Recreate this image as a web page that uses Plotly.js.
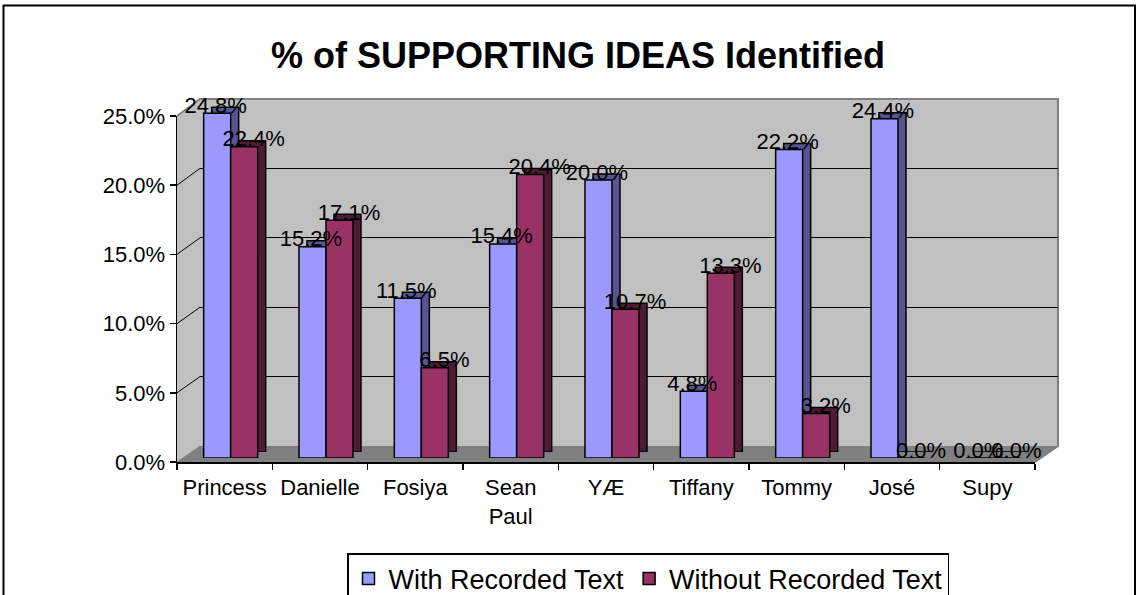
<!DOCTYPE html>
<html>
<head>
<meta charset="utf-8">
<script src="https://cdn.plot.ly/plotly-3.0.1.min.js"></script>
<style>html,body{margin:0;padding:0;background:#fff;}#chart{width:1138px;height:595px;}</style>
</head>
<body>
<div id="chart"></div>
<script>
// ---- data ----
const categories = ["Princess", "Danielle", "Fosiya", "Sean Paul", "YÆ", "Tiffany", "Tommy", "José", "Supy"];
const withRecorded = [0.248, 0.152, 0.115, 0.154, 0.200, 0.048, 0.222, 0.244, 0.000];
const withoutRecorded = [0.224, 0.171, 0.065, 0.204, 0.107, 0.133, 0.032, 0.000, 0.000];
const seriesNames = ["With Recorded Text", "Without Recorded Text"];
const yTicks = [0, 0.05, 0.10, 0.15, 0.20, 0.25];

// ---- geometry helpers (pixels -> paper) ----
const W = 1138, H = 595;
const px = x => x / W;
const py = y => 1 - y / H;
const FONT = "Arial, 'Liberation Sans', sans-serif";

const colors = { with: "#9999ff", without: "#993366", withSide: "#55558f", withoutSide: "#4f1a36" };

const front = { x0: 177, x1: 1035, yb: 462, yt: 116 };
const wall = { x0: 200, x1: 1058, yb: 446, yt: 99 };
const barF = { x0: 183, x1: 1041, yb: 458, yt: 110.5 };
const barB = { x0: 191, x1: 1049, yb: 452, yt: 104.5 };
const lab = { x0: 187, x1: 1045, yb: 452, yt: 104.5 };

const catRange = [-0.5, categories.length - 0.5];
const yRange = [0, 0.25];

function hiddenX(g, extra) {
  return Object.assign({ domain: [px(g.x0), px(g.x1)], type: "category", range: catRange,
    categoryorder: "array", categoryarray: categories, automargin: false,
    showticklabels: false, showgrid: false, zeroline: false, showline: false, ticks: "", fixedrange: true }, extra || {});
}
function hiddenY(g, extra) {
  return Object.assign({ domain: [py(g.yb), py(g.yt)], range: yRange, automargin: false,
    showticklabels: false, showgrid: false, zeroline: false, showline: false, ticks: "", fixedrange: true }, extra || {});
}

const labelFont = { family: FONT, size: 22, color: "#000" };
const traces = [
  { type: "scatter", mode: "none", x: categories, y: withRecorded, xaxis: "x", yaxis: "y", showlegend: false, hoverinfo: "skip" },
  { type: "bar", x: categories, y: withRecorded, xaxis: "x2", yaxis: "y2", showlegend: false, hoverinfo: "skip",
    marker: { color: colors.withSide, line: { color: "#000", width: 1.5 } } },
  { type: "bar", x: categories, y: withoutRecorded, xaxis: "x2", yaxis: "y2", showlegend: false, hoverinfo: "skip",
    marker: { color: colors.withoutSide, line: { color: "#000", width: 1.5 } } },
  { type: "bar", name: seriesNames[0], x: categories, y: withRecorded, xaxis: "x3", yaxis: "y3",
    marker: { color: colors.with, line: { color: "#000", width: 1.5 } } },
  { type: "bar", name: seriesNames[1], x: categories, y: withoutRecorded, xaxis: "x3", yaxis: "y3",
    marker: { color: colors.without, line: { color: "#000", width: 1.5 } } },
  { type: "scatter", mode: "none", x: categories, y: withRecorded, xaxis: "x4", yaxis: "y4", showlegend: false, hoverinfo: "skip" },
  { type: "scatter", mode: "text", x: categories, y: withRecorded, xaxis: "x5", yaxis: "y5", showlegend: false,
    texttemplate: "%{y:.1%}", textposition: "middle center", textfont: labelFont, cliponaxis: false, hoverinfo: "skip" },
  { type: "scatter", mode: "text", x: categories, y: withoutRecorded, xaxis: "x5", yaxis: "y5", showlegend: false,
    texttemplate: "%{y:.1%}", textposition: "middle center", textfont: labelFont, cliponaxis: false, hoverinfo: "skip" }
];

const shapes = [];
const P = (x, y) => px(x) + "," + py(y);
shapes.push({ type: "path", xref: "paper", yref: "paper", layer: "below", line: { width: 0 }, fillcolor: "#808080",
  path: "M" + P(front.x0, front.yb) + "L" + P(wall.x0, wall.yb) + "L" + P(wall.x1, wall.yb) + "L" + P(front.x1, front.yb) + "Z" });
shapes.push({ type: "path", xref: "paper", yref: "paper", layer: "below", line: { width: 0 }, fillcolor: "#c0c0c0",
  path: "M" + P(front.x0, front.yb) + "L" + P(wall.x0, wall.yb) + "L" + P(wall.x0, wall.yt) + "L" + P(front.x0, front.yt) + "Z" });
shapes.push({ type: "rect", xref: "paper", yref: "paper", layer: "below", line: { width: 0 }, fillcolor: "#c0c0c0",
  x0: px(wall.x0), x1: px(wall.x1), y0: py(wall.yb), y1: py(wall.yt) });
shapes.push({ type: "path", xref: "paper", yref: "paper", layer: "below", line: { color: "#808080", width: 2 },
  path: "M" + P(front.x0, front.yt) + "L" + P(wall.x0, wall.yt) + "L" + P(wall.x1, wall.yt) + "L" + P(wall.x1, wall.yb) + "L" + P(front.x1, front.yb) });
yTicks.slice(1, -1).forEach(v => {
  const yf = front.yb - (v / yRange[1]) * (front.yb - front.yt);
  const yb = wall.yb - (v / yRange[1]) * (wall.yb - wall.yt);
  shapes.push({ type: "line", xref: "paper", yref: "paper", layer: "below", line: { color: "#000", width: 1 },
    x0: px(front.x0), y0: py(yf), x1: px(wall.x0), y1: py(yb) });
});
shapes.push({ type: "line", xref: "paper", yref: "paper", layer: "below", line: { color: "#8a8a8a", width: 1 },
  x0: px(front.x0), y0: py(front.yb), x1: px(wall.x0), y1: py(wall.yb) });
shapes.push({ type: "rect", xref: "paper", yref: "paper", layer: "above", line: { color: "#000", width: 2 }, fillcolor: "rgba(0,0,0,0)",
  x0: px(3.5), x1: px(1135), y0: -0.1, y1: py(5.5) });

const layout = {
  width: W, height: H,
  margin: { l: 0, r: 0, t: 0, b: 0, pad: 0, autoexpand: false },
  paper_bgcolor: "#fff", plot_bgcolor: "rgba(0,0,0,0)",
  barmode: "group", bargap: 0.4335, bargroupgap: 0, scattermode: "group",
  font: { family: FONT, color: "#000", size: 22 },
  title: { text: "% of SUPPORTING IDEAS Identified", font: { family: FONT, size: 36, weight: "bold", color: "#000" },
    xref: "container", yref: "container", x: px(578), xanchor: "center", y: py(55), yanchor: "middle" },
  showlegend: true,
  legend: { orientation: "h", xref: "container", yref: "container", x: px(347), xanchor: "left", y: py(553), yanchor: "top", bgcolor: "#fff",
    bordercolor: "#000", borderwidth: 1.5, font: { family: FONT, size: 27, color: "#000" }, traceorder: "normal" },
  xaxis: hiddenX(wall),
  yaxis: hiddenY(wall, { showgrid: true, gridcolor: "#000", gridwidth: 1, tickmode: "array", tickvals: yTicks.slice(1, -1) }),
  xaxis2: hiddenX(barB, { anchor: "y2" }),
  yaxis2: hiddenY(barB, { anchor: "x2" }),
  xaxis3: hiddenX(barF, { anchor: "y3" }),
  yaxis3: hiddenY(barF, { anchor: "x3" }),
  xaxis4: hiddenX(front, { anchor: "y4", showticklabels: true, showline: true, linecolor: "#000", linewidth: 1.5,
    ticks: "outside", ticklen: 6, tickcolor: "#000", tickwidth: 1.5, tickson: "boundaries", ticklabelstandoff: 5,
    labelalias: { "Sean Paul": "Sean<br>Paul" }, tickfont: labelFont }),
  yaxis4: hiddenY(front, { anchor: "x4", showticklabels: true, showline: true, linecolor: "#000", linewidth: 1.5,
    ticks: "outside", ticklen: 6, tickcolor: "#000", tickwidth: 1.5, tickmode: "array", tickvals: yTicks,
    tickformat: ".1%", tickfont: labelFont }),
  xaxis5: hiddenX(lab, { anchor: "y5" }),
  yaxis5: hiddenY(lab, { anchor: "x5" }),
  shapes: shapes
};

Plotly.newPlot("chart", traces, layout, { displayModeBar: false, staticPlot: true });
</script>
</body>
</html>
